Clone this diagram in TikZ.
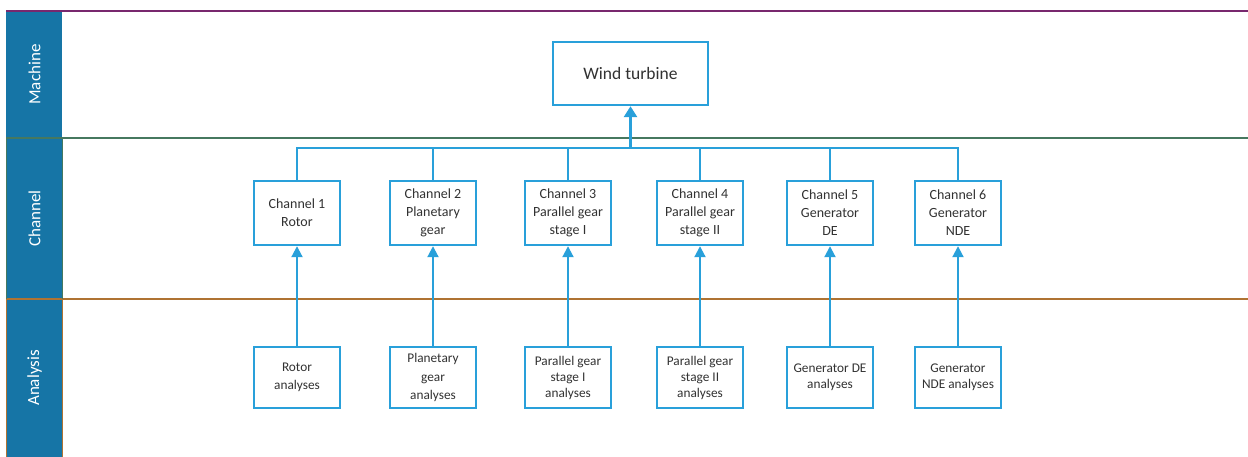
\documentclass[tikz,border=0pt]{standalone}
\usepackage{fontspec}
\setmainfont{Carlito}
\usetikzlibrary{arrows.meta}
\definecolor{hdr}{RGB}{22,117,166}
\definecolor{boxc}{RGB}{41,160,218}
\definecolor{txt}{RGB}{50,50,50}
\definecolor{lpurple}{RGB}{120,40,110}
\definecolor{lgreen}{RGB}{70,120,95}
\definecolor{lbrown}{RGB}{175,115,50}
\begin{document}
\begin{tikzpicture}[x=1pt,y=-1pt,
  box/.style={draw=boxc, line width=2.4pt, fill=white, align=center, inner sep=0pt, text=txt},
  chbox/.style={box, minimum width=86pt, minimum height=64pt, font=\fontsize{14}{18}\selectfont},
  anbox/.style={box, minimum width=86pt, minimum height=61pt, font=\fontsize{13.3}{16}\selectfont},
  anboxw/.style={anbox, font=\fontsize{13.3}{18.5}\selectfont},
  lanelabel/.style={rotate=90, text=white, font=\fontsize{17}{20}\selectfont, inner sep=0pt},
  link/.style={draw=boxc, line width=2pt},
  up/.style={link, -{Triangle[width=11pt,length=11pt]}}
]
\useasboundingbox (0,0) rectangle (1248,456);
\fill[white] (0,0) rectangle (1248,456);
% lanes
\fill[hdr] (6,11) rectangle (62,470);
\draw[lpurple, line width=1.3pt] (6,11) -- (1260,11);
\draw[lgreen, line width=1.3pt] (6,138) -- (1260,138);
\draw[lbrown, line width=1.5pt] (6,299) -- (1260,299);
\draw[lgreen, line width=0.8pt] (6,138) -- (6,299) (62,138) -- (62,299);
\draw[lbrown, line width=0.8pt] (6,299) -- (6,470) (62,299) -- (62,470);
\node[lanelabel] (lm) at (34.5,74.5) {Machine};
\node[lanelabel] (lc) at (34.5,218.5) {Channel};
\node[lanelabel] (la) at (34.5,378) {Analysis};
% machine
\node[box, minimum width=155pt, minimum height=63pt, font=\fontsize{17.5}{20}\selectfont] (wt) at (630.5,73.5) {Wind turbine};
% channels
\node[chbox] (ch1) at (297,213) {Channel 1\\Rotor};
\node[chbox] (ch2) at (433,213) {Channel 2\\Planetary\\gear};
\node[chbox] (ch3) at (568,213) {Channel 3\\Parallel gear\\stage I};
\node[chbox] (ch4) at (700,213) {Channel 4\\Parallel gear\\stage II};
\node[chbox] (ch5) at (830,213) {Channel 5\\Generator\\DE};
\node[chbox] (ch6) at (958,213) {Channel 6\\Generator\\NDE};
% analyses
\node[anboxw] (an1) at (297,377.5) {Rotor\\analyses};
\node[anboxw] (an2) at (433,377.5) {Planetary\\gear\\analyses};
\node[anbox] (an3) at (568,377.5) {Parallel gear\\stage I\\analyses};
\node[anbox] (an4) at (700,377.5) {Parallel gear\\stage II\\analyses};
\node[anbox] (an5) at (830,377.5) {Generator DE\\analyses};
\node[anbox] (an6) at (958,377.5) {Generator\\NDE analyses};
% bus
\coordinate (bus) at (630.5,148);
\draw[link] (ch1.north) |- (bus);
\draw[link] (ch6.north) |- (bus);
\foreach \i in {2,3,4,5} {\draw[link] (ch\i.north) -- (ch\i.north |- bus);}
\draw[link, line width=3pt, -{Triangle[width=13pt,length=11pt]}] (bus) -- (wt.south);
\foreach \i in {1,...,6} {\draw[up] (an\i.north) -- (ch\i.south);}
\end{tikzpicture}
\end{document}
